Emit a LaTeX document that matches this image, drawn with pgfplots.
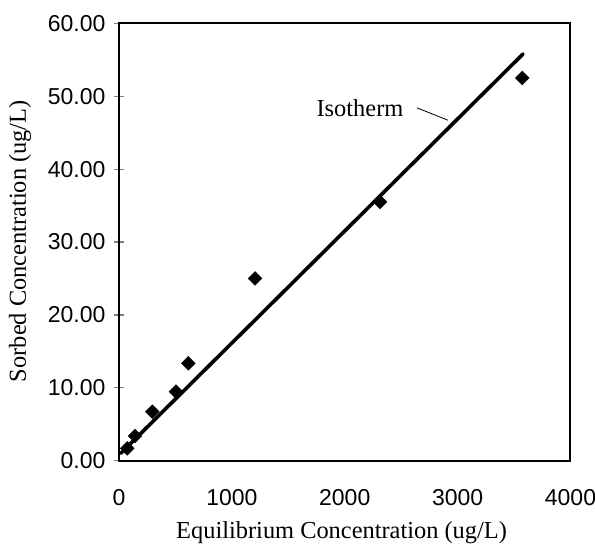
\documentclass[border=0pt]{standalone}
\usepackage{fontspec}
\setmainfont{Liberation Serif}
\newfontfamily\arialfont{Liberation Sans}
\usepackage{pgfplots}
\pgfplotsset{compat=1.18}

\begin{document}
\begin{tikzpicture}
\useasboundingbox (-119pt,-89.3pt) rectangle (476pt,460.7pt);
\begin{axis}[%
width=451.5pt,
height=437.4pt,
at={(0pt,0pt)},
anchor=south west,
scale only axis,
xmin=0, xmax=4000,
ymin=0, ymax=60,
xtick={0,1000,2000,3000,4000},
xticklabels={0,1000,2000,3000,4000},
ytick={0,10,20,30,40,50,60},
yticklabels={0.00,10.00,20.00,30.00,40.00,50.00,60.00},
ytick pos=left,
xtick style={draw=none},
tick align=center,
major tick length=10pt,
ytick style={line width=1.2pt},
axis line style={line width=2pt},
ticklabel style={font=\arialfont\fontsize{23}{27}\selectfont},
xticklabel style={yshift=-20pt},
yticklabel style={xshift=-5pt},
label style={font=\fontsize{24.4}{28}\selectfont},
xlabel={Equilibrium Concentration (ug/L)},
ylabel={Sorbed Concentration (ug/L)},
xlabel style={at={(axis description cs:0.493,-0.165)},anchor=center},
ylabel style={at={(axis description cs:-0.219,0.502)},anchor=center},
clip=false
]
% isotherm line
\addplot[black, line width=3.6pt, line cap=round] coordinates {
(15,1.0) (3580,55.8)
};
% measured points
\addplot[only marks, mark=square*, mark size=4.9pt, mark options={rotate=45,fill=black,draw=black}] coordinates {
(73,1.70)
(142,3.39)
(295,6.72)
(505,9.47)
(614,13.36)
(1205,25.0)
(2312,35.5)
(3573,52.5)
};
\node[font=\fontsize{24.4}{28}\selectfont] at (axis cs:2135,48.4) {Isotherm};
\draw[line width=0.8pt] (axis cs:2640,48.4) -- (axis cs:2915,46.7);
\end{axis}
\end{tikzpicture}
\end{document}
